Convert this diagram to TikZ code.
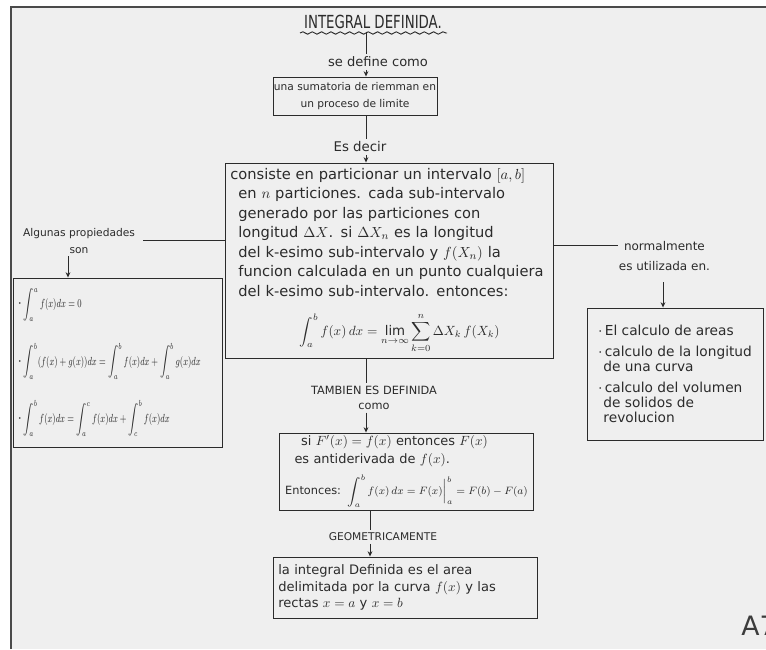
\documentclass[tikz,border=0pt]{standalone}
\usepackage{fontspec}
\usepackage{graphicx}
\setmainfont{DejaVu Sans}
\usetikzlibrary{arrows.meta,decorations.pathmorphing}

\definecolor{paper}{HTML}{EFEFEF}
\definecolor{ink}{HTML}{2B2B2B}
\definecolor{frame}{HTML}{4A4A4A}
\definecolor{stamp}{HTML}{3C3C3C}
\newcommand{\txtsize}[2]{\fontsize{#1}{#2}\selectfont}
\newcommand{\dotitem}{{\txtsize{12}{12}$\cdot$}\,}
\newcommand{\narrow}[1]{\scalebox{0.76}[1.1]{#1}}

\begin{document}
\begin{tikzpicture}[x=0.75pt,y=-0.75pt,
  pen/.style={draw=ink,line width=0.7pt},
  card/.style={pen,rectangle,inner sep=0pt,text=ink},
  tag/.style={text=ink,inner sep=2pt,align=center},
  link/.style={pen},
  tolink/.style={pen,-{Stealth[length=4pt,width=3.6pt]}}]

% sheet and its frame
\useasboundingbox (0,0) rectangle (766,649);
\fill[white] (0,0) rectangle (766,649);
\fill[paper] (11,7) rectangle (766,649);
\draw[frame,line width=1.5pt] (11,649) -- (11,7) -- (766,7);

% title
\node[tag,font=\txtsize{10}{12}] (title) at (373,22) {\scalebox{1}[1.35]{INTEGRAL DEFINIDA.}};
\draw[pen,decorate,decoration={snake,amplitude=0.9pt,segment length=7pt}] (300,33) -- (447,33);

% guide lines for the vertical connectors
\coordinate (spine) at (366,0);
\coordinate (spinelow) at (370,0);
\coordinate (ljoin) at (143,240);
\coordinate (ldrop) at (68,0);
\coordinate (rjoin) at (618,245);
\coordinate (rdrop) at (663,282);

% main column
\node[tag,font=\txtsize{9.8}{11}] (lbl1) at (378,62) {se define como};
\node[card,minimum width=123pt,minimum height=28.5pt,align=center,font=\txtsize{8}{13}] (box1) at (355,96)
  {una sumatoria de riemman en\\un proceso de limite};
\node[tag,font=\txtsize{10}{11}] (lbl2) at (360,147) {Es decir};
\node[card,minimum width=246pt,minimum height=146.25pt,text width=238pt,align=left,font=\txtsize{11}{14.6}] (box2) at (389,260.5)
  {consiste en particionar un intervalo $[a,b]$\\
   \hspace*{6pt}en $n$ particiones. cada sub-intervalo\\
   \hspace*{6pt}generado por las particiones con\\
   \hspace*{6pt}longitud $\Delta X$. si $\Delta X_n$ es la longitud\\
   \hspace*{6pt}del k-esimo sub-intervalo y $f(X_n)$ la\\
   \hspace*{6pt}funcion calculada en un punto cualquiera\\
   \hspace*{6pt}del k-esimo sub-intervalo. entonces:\\[12pt]
   \hspace*{52pt}{\txtsize{10}{12}$\displaystyle\int_a^b f(x)\,dx=\lim_{n\to\infty}\sum_{k=0}^{n}\Delta X_k\,f(X_k)$}};

\node[tag,font=\txtsize{8.5}{11}] (lbl5) at (374,398) {TAMBIEN ES DEFINIDA\\como};
\node[card,minimum width=190pt,minimum height=57.75pt,text width=182pt,align=left,font=\txtsize{9.7}{13.5}] (box3) at (406.5,471.5)
  {\hspace*{12pt}si $F'(x)=f(x)$ entonces $F(x)$\\
   \hspace*{7pt}es antiderivada de $f(x)$.\\[5pt]
   {\txtsize{8.5}{13.5}Entonces: $\displaystyle\int_a^b f(x)\,dx=F(x)\Big|_a^b=F(b)-F(a)$}};
\node[tag,font=\txtsize{8}{9}] (lbl6) at (383,537) {GEOMETRICAMENTE};
\node[card,minimum width=198pt,minimum height=45.75pt,text width=190pt,align=left,font=\txtsize{9.8}{12.4}] (box4) at (405,587.5)
  {la integral Definida es el area\\
   delimitada por la curva $f(x)$ y las\\
   rectas $x=a$ y $x=b$};

% left branch
\node[tag,font=\txtsize{8}{12.5}] (lbl3) at (79,241) {Algunas propiedades\\son};
\node[card,minimum width=156.75pt,minimum height=126.75pt,text width=150pt,align=left,font=\txtsize{8.5}{43}] (box5) at (117.5,362.5)
  {\dotitem\narrow{$\displaystyle\int_a^a f(x)dx=0$}\\
   \dotitem\narrow{$\displaystyle\int_a^b (f(x)+g(x))dx=\int_a^b f(x)dx+\int_a^b g(x)dx$}\\
   \dotitem\narrow{$\displaystyle\int_a^b f(x)dx=\int_a^c f(x)dx+\int_c^b f(x)dx$}};

% right branch
\node[tag,font=\txtsize{9}{15},anchor=north west] (lbl4) at (616,238) {normalmente\\es utilizada en.};
\node[card,minimum width=132pt,minimum height=99pt,align=left,font=\txtsize{10.3}{11.5}] (box6) at (675,374)
  {\dotitem El calculo de areas\\[4pt]
   \dotitem calculo de la longitud\\
   \hspace*{4pt}de una curva\\[4pt]
   \dotitem calculo del volumen\\
   \hspace*{4pt}de solidos de\\
   \hspace*{4pt}revolucion};

% connectors
\draw[link] (title.south -| spine) -- (lbl1.north -| spine);
\draw[tolink] (lbl1.south -| spine) -- (box1.north -| spine);
\draw[link] (box1.south -| spine) -- (lbl2.north -| spine);
\draw[tolink] (lbl2.south -| spine) -- (box2.north -| spine);
\draw[link] (box2.south -| spine) -- (lbl5.north -| spine);
\draw[tolink] (lbl5.south -| spine) -- (box3.north -| spine);
\draw[link] (box3.south -| spinelow) -- (lbl6.north -| spinelow);
\draw[tolink] (lbl6.south -| spinelow) -- (box4.north -| spinelow);
\draw[link] (box2.west |- ljoin) -- (ljoin);
\draw[tolink] (lbl3.south -| ldrop) -- (box5.north -| ldrop);
\draw[link] (box2.east |- rjoin) -- (rjoin);
\draw[tolink] (rdrop) -- (rdrop |- box6.north);

% sheet number
\node[text=stamp,font=\txtsize{20}{22},anchor=west,inner sep=0pt] (sheetno) at (741,626) {A7};
\end{tikzpicture}
\end{document}
